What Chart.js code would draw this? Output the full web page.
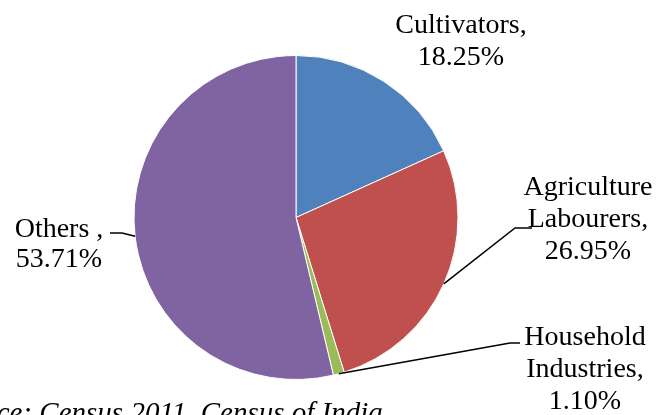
<!DOCTYPE html>
<html>
<head>
<meta charset="utf-8">
<script src="https://cdn.jsdelivr.net/npm/chart.js@4/dist/chart.umd.min.js"></script>
<style>
  html, body { margin: 0; padding: 0; background: #fff; overflow: hidden; }
  #wrap { position: relative; width: 656px; height: 415px; }
</style>
</head>
<body>
<div id="wrap"><canvas id="workChart" width="656" height="415"></canvas></div>
<script>
// Anteile der Beschäftigten (Census 2011)
const categories = ['Cultivators', 'Agriculture Labourers', 'Household Industries', 'Others'];
const shares = [18.25, 26.95, 1.10, 53.71];
const labelLines = [['Cultivators,'], ['Agriculture', 'Labourers,'], ['Household', 'Industries,'], ['Others ,']];
const sliceColors = ['#4F81BD', '#C0504D', '#9BBB59', '#8064A2'];
const sourceText = 'Source: Census 2011, Census of India';

// Position der Beschriftungen (Mitte, erste Grundlinie) und Ansatzpunkt der Führungslinie
const labelSpots = [
    { x: 461, y: 33, gap: 32, lead: null },
    { x: 588, y: 195, gap: 32, lead: [[532, 228], [515, 228]] },
    { x: 585, y: 345, gap: 32, lead: [[520, 343], [510, 343]] },
    { x: 59, y: 237, gap: 30, lead: [[110, 233], [122, 233]] }
];

const labelPlugin = {
    id: 'sliceLabels',
    afterDraw(chart) {
        const ctx = chart.ctx;
        const arcs = chart.getDatasetMeta(0).data;
        ctx.save();
        ctx.fillStyle = '#000';
        ctx.strokeStyle = '#000';
        ctx.lineWidth = 1.5;
        ctx.font = '28px "Liberation Serif", "Times New Roman", serif';
        ctx.textAlign = 'center';
        ctx.textBaseline = 'alphabetic';

        arcs.forEach((arc, i) => {
            const spot = labelSpots[i];
            const lines = labelLines[i].concat(shares[i].toFixed(2) + '%');
            lines.forEach((txt, k) => ctx.fillText(txt, spot.x, spot.y + k * spot.gap));

            if (spot.lead) {
                // Führungslinie bis zur Mitte des Segmentrands
                const mid = (arc.startAngle + arc.endAngle) / 2;
                const ex = arc.x + Math.cos(mid) * arc.outerRadius;
                const ey = arc.y + Math.sin(mid) * arc.outerRadius;
                ctx.beginPath();
                ctx.moveTo(spot.lead[0][0], spot.lead[0][1]);
                ctx.lineTo(spot.lead[1][0], spot.lead[1][1]);
                ctx.lineTo(ex, ey);
                ctx.stroke();
            }
        });

        // Quellenangabe unten links
        ctx.font = 'italic 29px "Liberation Serif", "Times New Roman", serif';
        ctx.textAlign = 'left';
        ctx.fillText(sourceText, -57, 422);
        ctx.restore();
    }
};

new Chart(document.getElementById('workChart'), {
    type: 'pie',
    data: {
        labels: categories,
        datasets: [{
            data: shares,
            backgroundColor: sliceColors,
            borderColor: '#ffffff',
            borderWidth: 1
        }]
    },
    options: {
        responsive: false,
        animation: false,
        radius: 162,
        layout: { padding: { left: 136, right: 200, top: 57, bottom: 37 } },
        plugins: {
            legend: { display: false },
            tooltip: { enabled: false }
        }
    },
    plugins: [labelPlugin]
});
</script>
</body>
</html>
